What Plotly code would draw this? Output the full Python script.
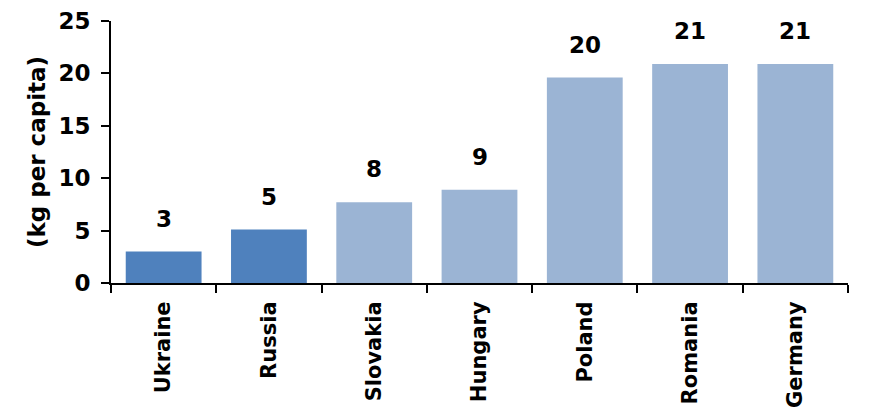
import plotly.graph_objects as go

countries = ["Ukraine", "Russia", "Slovakia", "Hungary", "Poland", "Romania", "Germany"]
consumption = [3.0, 5.1, 7.7, 8.9, 19.6, 20.9, 20.9]
bar_colors = ["#4F81BD", "#4F81BD", "#9BB4D4", "#9BB4D4", "#9BB4D4", "#9BB4D4", "#9BB4D4"]
y_ticks = [0, 5, 10, 15, 20, 25]

FONT = "DejaVu Sans"

fig = go.Figure()
fig.add_trace(go.Bar(
    x=countries,
    y=consumption,
    marker=dict(color=bar_colors, line=dict(width=0)),
    hoverinfo="skip",
))

# value labels above each bar, rounded to whole kg
for c, v in zip(countries, consumption):
    fig.add_annotation(
        x=c, y=v, text=f"{round(v)}",
        showarrow=False, yanchor="bottom", yshift=18,
        font=dict(family=FONT, size=23, color="black", weight="bold"),
    )

fig.update_layout(
    width=870, height=414,
    margin=dict(l=111, r=22, t=21, b=131),
    paper_bgcolor="white", plot_bgcolor="white",
    bargap=0.28,
    showlegend=False,
    xaxis=dict(
        type="category", automargin=False,
        showline=True, linecolor="black", linewidth=2,
        ticks="outside", tickson="boundaries", ticklen=8, tickwidth=2, tickcolor="black",
        tickangle=-90, ticklabelstandoff=8,
        tickfont=dict(family=FONT, size=21, color="black", weight="bold"),
        showgrid=False,
    ),
    yaxis=dict(
        range=[0, 25], automargin=False,
        tickvals=y_ticks,
        showline=True, linecolor="black", linewidth=2,
        ticks="outside", ticklen=8, tickwidth=2, tickcolor="black",
        ticklabelstandoff=6,
        tickfont=dict(family=FONT, size=23, color="black", weight="bold"),
        showgrid=False, zeroline=False,
        title=dict(text="(kg per capita)", standoff=6,
                   font=dict(family=FONT, size=23, color="black", weight="bold")),
    ),
)

fig.write_html("out.html")
